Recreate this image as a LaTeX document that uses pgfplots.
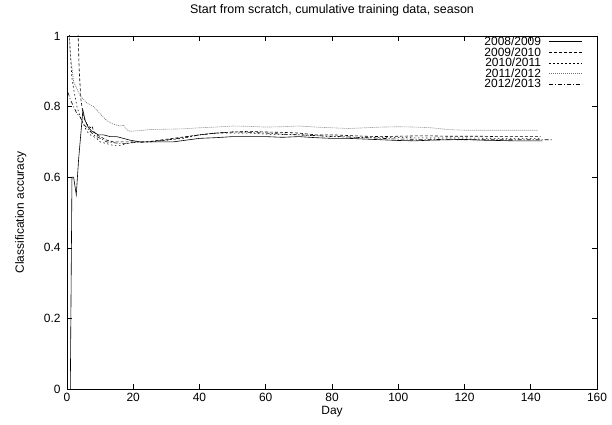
\documentclass[border=0pt]{standalone}
\usepackage{pgfplots}
\pgfplotsset{compat=1.18}
\usepackage{fontspec}
\setmainfont{Liberation Sans}
\newcommand{\lgap}{\rule{6bp}{0pt}}
\begin{document}
\begin{tikzpicture}
\path[use as bounding box] (-67bp,-36bp) rectangle (545bp,389bp);
\begin{axis}[
  at={(0,0)}, anchor=south west,
  scale only axis, width=530bp, height=353bp,
  xmin=0, xmax=160, ymin=0, ymax=1,
  xtick={0,20,...,160}, ytick={0,0.2,0.4,0.6,0.8,1},
  yticklabels={0,0.2,0.4,0.6,0.8,1},
  tick align=inside, major tick length=5bp,
  xtick pos=both, ytick pos=both,
  axis line style={line width=0.8pt},
  tick style={line width=0.6pt, black},
  /pgf/number format/assume math mode=true,
  every tick label/.style={font=\fontsize{12}{13}\selectfont},
  label style={font=\fontsize{12}{13}\selectfont},
  title={Start from scratch, cumulative training data, season},
  title style={font=\fontsize{12.5}{14}\selectfont, at={(0.5,1)}, anchor=south, yshift=10bp},
  xlabel={Day}, ylabel={Classification accuracy},
  xlabel style={at={(0.5,0)}, anchor=north, yshift=-14bp},
  ylabel style={at={(0,0.5)}, anchor=south, yshift=37bp},
  xticklabel style={yshift=-1bp},
  yticklabel style={xshift=-3bp},
  legend style={at={(rel axis cs:0.975,0.99)}, yshift=6bp, anchor=north east, draw=none, fill=none,
    font=\fontsize{12}{13}\selectfont, row sep=-3.5pt, inner sep=1pt},
  legend cell align=right, legend plot pos=right,
  legend image code/.code={\draw[#1] (0bp,0bp) -- (33bp,0bp);},
  every axis plot/.append style={line width=0.6pt, no markers},
  clip=true,
]
\addplot[black] coordinates {
(1,0) (1.5,0.60) (2,0.60) (2.8,0.55) (3.5,0.65) (4.8,0.79) (5.5,0.76) (6.5,0.74) (7.5,0.73) (8.5,0.725) (9.5,0.72) (11,0.72) (13,0.715) (15,0.715) (17,0.71) (19,0.705) (22,0.70) (25,0.70) (28,0.70) (32,0.70) (36,0.705) (40,0.71) (45,0.712) (50,0.715) (55,0.715) (60,0.715) (65,0.713) (70,0.715) (75,0.712) (80,0.71) (85,0.71) (90,0.708) (95,0.706) (100,0.704) (105,0.703) (110,0.705) (115,0.706) (120,0.707) (125,0.705) (130,0.704) (135,0.703) (140,0.703) (143.5,0.703)
};
\addlegendentry{2008/2009\lgap}
\addplot[black, dash pattern=on 3bp off 2bp] coordinates {
(3.2,1.05) (3.7,0.90) (4.2,0.82) (5,0.77) (6,0.75) (7,0.74) (7.6,0.745) (8,0.73) (9,0.72) (10,0.715) (12,0.705) (14,0.70) (16,0.70) (18,0.70) (20,0.70) (24,0.70) (28,0.705) (32,0.71) (36,0.715) (40,0.72) (45,0.725) (50,0.728) (55,0.73) (60,0.728) (65,0.727) (70,0.725) (75,0.72) (80,0.72) (85,0.718) (90,0.716) (95,0.715) (100,0.716) (105,0.717) (110,0.717) (115,0.716) (120,0.716) (125,0.716) (130,0.715) (135,0.715) (140,0.715) (143,0.715)
};
\addlegendentry{2009/2010\lgap}
\addplot[black, dash pattern=on 1.5bp off 2.5bp] coordinates {
(0.5,1.05) (1,0.95) (1.5,0.88) (2,0.85) (3,0.80) (4,0.77) (5,0.75) (6,0.73) (7,0.72) (8,0.715) (9,0.71) (10,0.70) (12,0.695) (14,0.69) (16,0.69) (18,0.695) (20,0.70) (25,0.70) (30,0.705) (35,0.71) (40,0.72) (45,0.725) (50,0.725) (55,0.725) (60,0.722) (70,0.72) (80,0.715) (90,0.712) (100,0.712) (110,0.711) (120,0.711) (130,0.71) (140,0.71) (143,0.71)
};
\addlegendentry{2010/2011\lgap}
\addplot[black!55, dash pattern=on 1bp off 1bp] coordinates {
(0.3,1.05) (1,0.95) (2,0.87) (3,0.85) (4,0.83) (5,0.82) (6,0.81) (8,0.80) (10,0.78) (12,0.76) (14,0.75) (16,0.745) (17,0.748) (18,0.735) (19,0.73) (22,0.732) (25,0.735) (30,0.736) (35,0.737) (40,0.74) (45,0.742) (50,0.745) (55,0.744) (60,0.742) (65,0.743) (70,0.745) (75,0.742) (80,0.74) (85,0.738) (90,0.74) (95,0.742) (100,0.743) (105,0.742) (110,0.74) (115,0.735) (120,0.733) (125,0.733) (130,0.733) (135,0.733) (140,0.733) (142,0.733)
};
\addlegendentry{2011/2012\lgap}
\addplot[black, dash pattern=on 4bp off 2bp on 1bp off 2bp] coordinates {
(0.3,0.84) (1,0.82) (2,0.80) (3,0.78) (4,0.77) (5,0.75) (6,0.74) (7,0.73) (8,0.72) (9,0.715) (10,0.71) (12,0.70) (14,0.698) (16,0.695) (18,0.695) (20,0.698) (25,0.70) (30,0.705) (35,0.712) (40,0.72) (45,0.725) (50,0.728) (55,0.727) (60,0.725) (65,0.722) (70,0.72) (75,0.718) (80,0.716) (85,0.714) (90,0.712) (95,0.71) (100,0.708) (110,0.707) (120,0.706) (130,0.706) (140,0.706) (146.5,0.706)
};
\addlegendentry{2012/2013\lgap}
\end{axis}
\end{tikzpicture}
\end{document}
